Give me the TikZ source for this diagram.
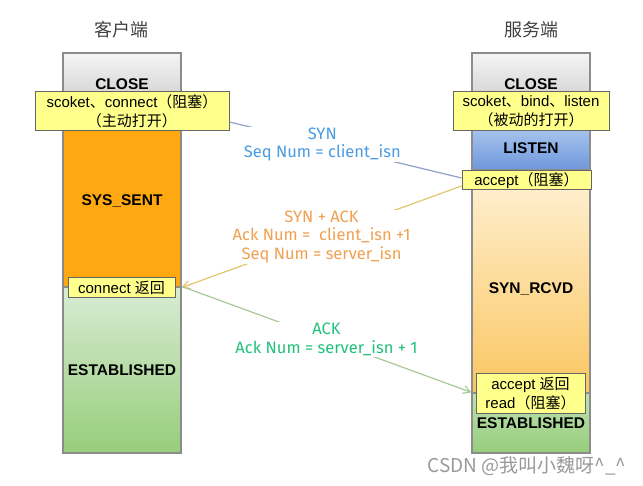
\documentclass[tikz,border=0pt]{standalone}
\usepackage{fontspec}
\setmainfont{Liberation Sans}
\newfontfamily\cjk{Noto Sans CJK SC}
\newfontfamily\msgfont{Fira Sans}
\usetikzlibrary{arrows.meta}
\definecolor{boxyellow}{RGB}{255,255,140}
\definecolor{sentorange}{RGB}{255,168,17}
\definecolor{synblue}{RGB}{74,155,224}
\definecolor{synackorange}{RGB}{240,160,80}
\definecolor{ackgreen}{RGB}{34,193,122}
\newcommand\zh[1]{{\cjk #1}}
\tikzset{every picture/.append style={line width=1.2pt}}

\begin{document}
\begin{tikzpicture}[x=1pt,y=-1pt,>={Straight Barb[length=7pt,width=8pt]}]
      \tikzstyle{block}=[draw=black!45,minimum width=118pt,inner sep=0pt,font=\bfseries\fontsize{15.5}{18}\selectfont]
      \tikzstyle{callbox}=[draw=black!60,fill=boxyellow,line width=1pt,inner sep=0pt,align=center,font=\fontsize{15}{19}\selectfont]
      \tikzstyle{msg}=[fill=white,align=center,inner sep=1pt,font=\msgfont\fontsize{16.5}{18.5}\selectfont]
      \tikzstyle{title}=[text=black!75,font=\cjk\fontsize{18}{20}\selectfont]
      \useasboundingbox (0,0) rectangle (643,486);
      \node[title] at (121,30) (ctitle) {客户端};
      \node[title] at (531,30) (stitle) {服务端};
      % client
      \node[block,minimum height=62pt,top color=black!4,bottom color=black!22] at (122,84) (cclose) {CLOSE};
      \node[block,minimum height=172pt,fill=sentorange] at (122,201) (synsent) {SYS\_SENT};
      \node[block,minimum height=166pt,top color={rgb,255:red,216;green,236;blue,212},bottom color={rgb,255:red,150;green,205;blue,122}] at (122,370) (cest) {ESTABLISHED};
      % server
      \node[block,minimum height=62pt,top color=black!4,bottom color=black!22] at (531,84) (sclose) {CLOSE};
      \node[block,minimum height=44pt,top color={rgb,255:red,172;green,198;blue,238},bottom color={rgb,255:red,110;green,152;blue,220}] at (531,148) (listen) {LISTEN};
      \node[block,minimum height=207pt,top color={rgb,255:red,255;green,238;blue,205},bottom color={rgb,255:red,250;green,198;blue,96}] at (531,289.5) (synrcvd) {SYN\_RCVD};
      \node[block,minimum height=60pt,top color={rgb,255:red,190;green,225;blue,180},bottom color={rgb,255:red,150;green,205;blue,122}] at (531,423) (sest) {ESTABLISHED};
      % calls
      \node[callbox,minimum width=194pt,minimum height=39pt] at (132,111.5) (copen) {scoket\zh{、}connect\zh{（阻塞）}\\\zh{（主动打开）}};
      \node[callbox,minimum width=156pt,minimum height=39pt] at (531,111.5) (sopen) {scoket\zh{、}bind\zh{、}listen\\\zh{（被动的打开）}};
      \node[callbox,minimum width=129pt,minimum height=19pt] at (526.5,180.5) (accept) {accept\zh{（阻塞）}};
      \node[callbox,minimum width=107pt,minimum height=20pt] at (121.5,288) (conret) {connect \zh{返回}};
      \node[callbox,minimum width=109pt,minimum height=40pt] at (530.5,394) (acceptret) {accept \zh{返回}\\read\zh{（阻塞）}};
      % handshake
      \draw([yshift=-10.5pt]copen.east) edge[draw={rgb,255:red,140;green,160;blue,200}] node[msg,pos=0.4,text=synblue]{SYN\\Seq Num = client\_isn} ([yshift=2.5pt]accept.west);
      \draw([yshift=-5.5pt]accept.west) edge[->,draw={rgb,255:red,226;green,196;blue,106}] node[msg,pos=0.5,text=synackorange]{SYN + ACK\\Ack Num = \ client\_isn +1\\Seq Num = server\_isn} (synsent.south east);
      \draw(cest.north east) edge[->,draw={rgb,255:red,168;green,200;blue,152}] node[msg,pos=0.5,text=ackgreen]{ACK\\Ack Num = server\_isn + 1} (sest.north west);
      \node[text=black!40,font=\cjk\fontsize{19}{22}\selectfont] at (527,466) (mark) {CSDN @我叫小魏呀\textasciicircum\_\textasciicircum};
    \end{tikzpicture}
\end{document}
